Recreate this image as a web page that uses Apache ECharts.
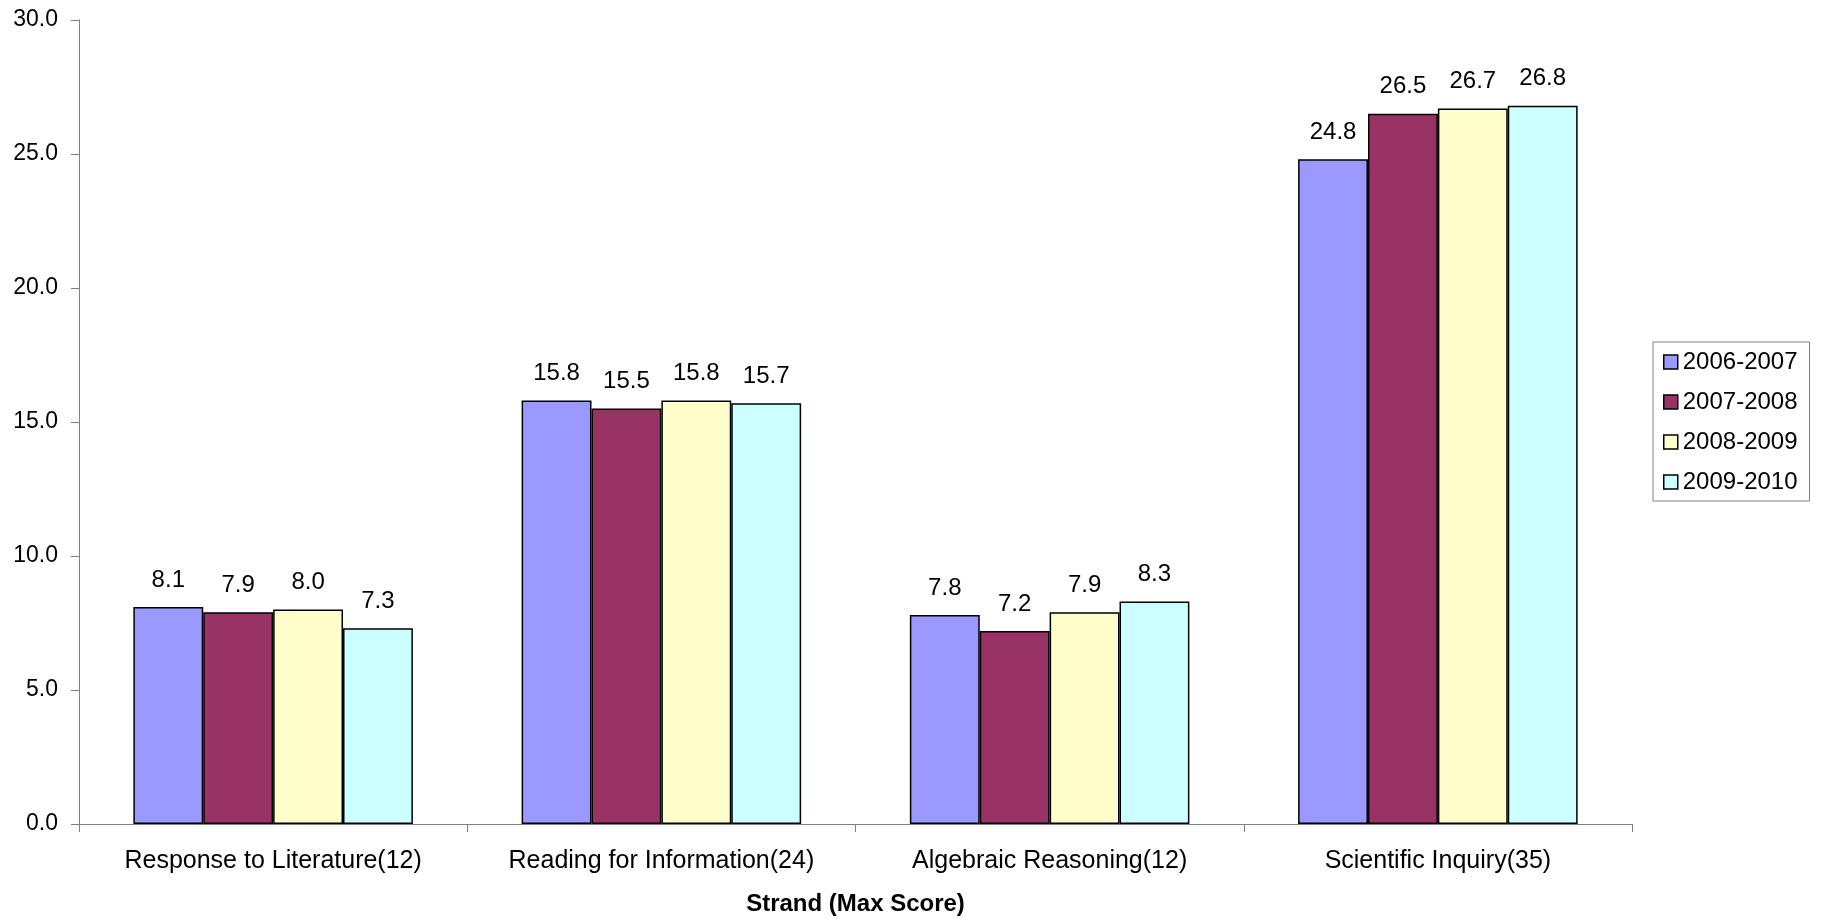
<!DOCTYPE html>
<html>
<head>
<meta charset="utf-8">
<script src="https://cdn.jsdelivr.net/npm/echarts@6/dist/echarts.min.js"></script>
<style>html,body{margin:0;padding:0;background:#fff}#c{width:1821px;height:919px}</style>
</head>
<body>
<div id="c"></div>
<script>
const categories = ['Response to Literature(12)', 'Reading for Information(24)', 'Algebraic Reasoning(12)', 'Scientific Inquiry(35)'];
const seriesNames = ['2006-2007', '2007-2008', '2008-2009', '2009-2010'];
const s2006 = [8.1, 15.8, 7.8, 24.8];
const s2007 = [7.9, 15.5, 7.2, 26.5];
const s2008 = [8.0, 15.8, 7.9, 26.7];
const s2009 = [7.3, 15.7, 8.3, 26.8];
const yTicks = [0, 5, 10, 15, 20, 25, 30];

const colors = ['#9999FF', '#993366', '#FFFFCC', '#CCFFFF'];
const font = 'Liberation Sans, Arial, sans-serif';
const data = [s2006, s2007, s2008, s2009];

const chart = echarts.init(document.getElementById('c'));
chart.setOption({
  animation: false,
  backgroundColor: '#fff',
  textStyle: { fontFamily: font },
  grid: { left: 79, right: 189, top: 20, bottom: 95, containLabel: false, outerBoundsMode: 'none' },
  legend: {
    orient: 'vertical',
    left: 1653, top: 342,
    padding: [8, 12, 7, 10],
    itemWidth: 14, itemHeight: 14,
    itemGap: 16,
    borderColor: '#808080', borderWidth: 1,
    textStyle: { fontFamily: font, fontSize: 24, lineHeight: 24, color: '#000', padding: [0, 0, 0, 0] },
    icon: 'rect',
    data: seriesNames.map(n => ({ name: n, itemStyle: { borderColor: '#000', borderWidth: 1.5 } }))
  },
  xAxis: {
    type: 'category',
    data: categories,
    name: 'Strand (Max Score)',
    nameLocation: 'middle',
    nameGap: 68,
    nameTextStyle: { fontFamily: font, fontSize: 24, fontWeight: 'bold', color: '#000' },
    axisLine: { lineStyle: { color: '#808080', width: 1 } },
    axisTick: { show: true, interval: 0, length: 8, alignWithLabel: false, lineStyle: { color: '#808080' } },
    axisLabel: { interval: 0, hideOverlap: false, fontFamily: font, fontSize: 25, lineHeight: 25, color: '#000', margin: 25 },
    splitLine: { show: false }
  },
  yAxis: {
    type: 'value',
    min: 0, max: 30, interval: 5,
    axisLine: { show: true, lineStyle: { color: '#808080', width: 1 } },
    axisTick: { show: true, length: 8, lineStyle: { color: '#808080' } },
    axisLabel: { fontFamily: font, fontSize: 23, color: '#000', margin: 21,
      formatter: v => yTicks.includes(v) ? v.toFixed(1) : '' },
    splitLine: { show: false }
  },
  series: seriesNames.map((n, i) => ({
    name: n,
    type: 'bar',
    data: data[i],
    barGap: '0%',
    barCategoryGap: '28%',
    itemStyle: { color: colors[i], borderColor: '#000', borderWidth: 1.5 },
    label: {
      show: true, position: 'top', distance: 15,
      fontFamily: font, fontSize: 24, lineHeight: 24, color: '#000',
      formatter: p => p.value.toFixed(1)
    }
  }))
});
</script>
</body>
</html>
